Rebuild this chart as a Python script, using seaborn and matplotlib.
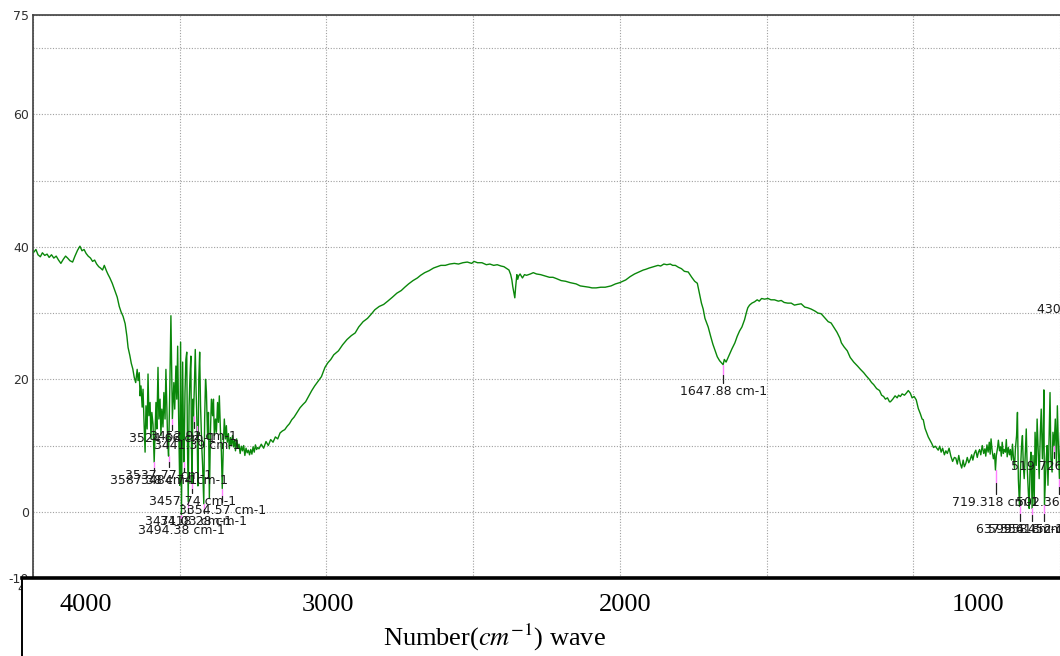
import numpy as np
import pandas as pd
import matplotlib
matplotlib.use("Agg")
import matplotlib.pyplot as plt
import seaborn as sns

# ---------------- data ----------------
wn_a = [3997, 3990, 3983, 3975, 3968, 3960, 3952, 3945, 3937, 3929, 3921, 3913, 3905, 3897,
        3889, 3882, 3874, 3865, 3857, 3848, 3840, 3833, 3826, 3819, 3812, 3804, 3797, 3790,
        3783, 3776, 3770, 3763, 3757, 3750, 3745, 3738, 3730, 3722, 3713, 3706, 3700, 3693,
        3686, 3680, 3676, 3670, 3665, 3660, 3655, 3650]
t_a = [39.2, 39.6, 38.8, 38.5, 39.1, 38.7, 38.9, 38.4, 38.8, 38.3, 38.6, 38.0, 37.5, 38.1,
       38.6, 38.3, 37.9, 37.7, 38.6, 39.5, 40.1, 39.4, 39.6, 39.0, 38.6, 38.3, 37.8, 38.0,
       37.4, 37.0, 36.8, 36.5, 37.2, 36.4, 35.9, 35.3, 34.5, 33.5, 32.4, 31.0, 30.2, 29.5,
       28.4, 26.5, 24.8, 23.6, 22.4, 21.6, 20.3, 19.5]

wn_b = [3645, 3642, 3638, 3635, 3632, 3628, 3625, 3622, 3618, 3615, 3611, 3608, 3605, 3601,
        3598, 3595, 3591, 3587, 3584, 3581, 3578, 3574, 3571, 3567, 3564, 3561, 3557, 3554,
        3550, 3547, 3544, 3541, 3538, 3534, 3530, 3527, 3525, 3520, 3517, 3513, 3510, 3507,
        3503, 3500, 3497, 3494, 3490, 3487, 3485, 3482, 3479, 3476, 3474, 3471, 3468, 3465,
        3462, 3460, 3458, 3455, 3453, 3450, 3447, 3444, 3441, 3438, 3435, 3432, 3429, 3425,
        3422, 3418, 3415, 3412, 3409, 3405, 3402, 3399, 3395, 3392, 3388, 3385, 3382, 3378,
        3375, 3371, 3368, 3365, 3361, 3358, 3355, 3351, 3348, 3344, 3341, 3338, 3334, 3331,
        3327, 3324, 3320, 3317, 3313, 3310, 3306, 3302, 3298, 3294, 3290, 3286, 3282, 3278,
        3274, 3270, 3266, 3262, 3258, 3254, 3250, 3246, 3242, 3238, 3234]
t_b = [21.5, 19.8, 21.0, 17.5, 19.0, 15.8, 18.5, 14.0, 9.0, 16.0, 12.5, 20.8, 14.5, 16.5,
       11.0, 15.0, 13.2, 7.5, 12.0, 16.5, 12.5, 21.8, 14.0, 17.0, 11.5, 15.5, 12.8, 18.0,
       14.0, 21.5, 16.0, 10.5, 8.4, 18.0, 29.6, 20.0, 14.0, 19.5, 15.5, 22.0, 17.0, 25.0,
       12.0, 4.0, 25.6, -0.5, 22.6, 10.0, 7.5, 18.0, 23.0, 24.1, 12.0, 1.5, 16.0, 20.5,
       23.5, 10.0, 4.3, 17.0, 14.5, 19.0, 24.5, 18.0, 13.0, 3.9, 20.0, 24.1, 16.0, 10.0,
       7.0, 1.2, 14.0, 20.0, 18.1, 11.0, 15.0, 2.0, 12.5, 17.0, 14.5, 17.0, 11.5, 14.0,
       12.0, 16.5, 13.5, 17.5, 12.0, 9.0, 3.5, 10.5, 14.0, 11.0, 13.0, 10.5, 11.8, 9.5,
       11.2, 10.0, 11.5, 9.8, 10.8, 9.2, 11.0, 9.6, 10.2, 8.8, 9.9, 9.2, 10.0, 8.5,
       9.6, 8.9, 9.3, 8.6, 9.4, 8.7, 9.8, 9.0, 10.1, 9.4, 9.7]

wn_c = [3230, 3222, 3214, 3206, 3198, 3190, 3182, 3174, 3166, 3158, 3150, 3142, 3134, 3126,
        3118, 3110, 3100, 3090, 3080, 3071, 3060, 3050, 3040, 3030, 3017, 3005, 2995, 2985,
        2975, 2959, 2945, 2930, 2915, 2902, 2890, 2875, 2860, 2848, 2835, 2820, 2805, 2791,
        2775, 2760, 2745, 2733, 2720, 2705, 2690, 2679, 2665, 2650, 2635, 2622, 2610, 2595,
        2580, 2564, 2550, 2535, 2520, 2505, 2497, 2485, 2470, 2455, 2443, 2430, 2418, 2405,
        2395, 2385, 2378, 2372, 2368, 2365, 2361, 2358, 2355, 2351, 2348, 2345, 2340, 2332,
        2325, 2318, 2305, 2295, 2284, 2270, 2255, 2240, 2228, 2216, 2200, 2185, 2170, 2160,
        2149, 2135, 2120, 2105, 2095, 2081, 2065, 2050, 2040, 2030, 2015, 2000]
t_c = [9.5, 10.2, 9.6, 10.6, 10.0, 10.9, 10.5, 11.3, 11.0, 11.9, 12.2, 12.4, 12.9, 13.3,
       13.9, 14.3, 15.0, 15.7, 16.2, 16.6, 17.5, 18.3, 19.0, 19.6, 20.4, 21.8, 22.5, 23.0,
       23.7, 24.3, 25.2, 26.0, 26.6, 27.0, 27.9, 28.7, 29.2, 29.8, 30.5, 31.0, 31.3, 31.8,
       32.4, 33.0, 33.4, 33.9, 34.4, 34.9, 35.3, 35.7, 36.1, 36.4, 36.8, 37.0, 37.2, 37.2,
       37.4, 37.5, 37.4, 37.6, 37.7, 37.5, 37.8, 37.6, 37.6, 37.3, 37.4, 37.2, 37.3, 37.1,
       37.0, 36.7, 36.5, 35.8, 35.0, 34.0, 33.0, 32.3, 34.0, 35.8, 35.1, 35.6, 35.9, 35.3,
       35.8, 35.7, 35.9, 36.1, 35.9, 35.8, 35.6, 35.4, 35.4, 35.2, 34.9, 34.8, 34.6, 34.5,
       34.4, 34.1, 34.0, 33.9, 33.8, 33.8, 33.9, 33.9, 34.0, 34.1, 34.4, 34.6]

wn_d = [1990, 1980, 1965, 1950, 1935, 1920, 1912, 1900, 1885, 1870, 1861, 1850, 1840, 1828,
        1820, 1811, 1800, 1790, 1780, 1767, 1755, 1745, 1736, 1730, 1722, 1716, 1710, 1699,
        1690, 1683, 1676, 1668, 1660, 1652, 1648, 1644, 1638, 1632, 1625, 1618, 1608, 1600,
        1592, 1584, 1575, 1568, 1564, 1558, 1550, 1541, 1532, 1525, 1517, 1507, 1495, 1485,
        1473, 1460, 1450, 1440, 1428, 1416, 1405, 1395, 1382, 1370, 1360, 1348, 1335, 1325,
        1314, 1300, 1290, 1280, 1270, 1260, 1250, 1245, 1236, 1225, 1215, 1203, 1190, 1180,
        1169, 1160, 1150, 1142, 1135, 1125, 1115, 1108, 1101, 1095, 1088, 1081, 1078, 1070,
        1062, 1055, 1050, 1044, 1038, 1030, 1024, 1017, 1010, 1004]
t_d = [34.8, 35.0, 35.5, 35.9, 36.2, 36.5, 36.6, 36.8, 37.0, 37.2, 37.1, 37.4, 37.3, 37.4,
       37.2, 37.2, 36.9, 36.7, 36.3, 36.2, 35.4, 34.8, 34.5, 33.2, 31.5, 30.6, 29.2, 27.9,
       26.4, 25.3, 24.4, 23.4, 22.8, 22.4, 22.2, 23.0, 22.6, 23.2, 23.9, 24.6, 25.5, 26.5,
       27.3, 27.9, 29.0, 30.2, 30.8, 31.2, 31.5, 31.7, 32.0, 31.8, 32.2, 32.1, 32.2, 32.0,
       32.0, 31.8, 31.9, 31.6, 31.5, 31.5, 31.2, 31.3, 31.4, 30.9, 30.8, 30.6, 30.3, 30.0,
       29.9, 29.2, 28.7, 28.5, 27.8, 27.1, 26.2, 25.5, 24.9, 24.3, 23.3, 22.6, 22.0, 21.5,
       21.0, 20.5, 20.0, 19.5, 19.2, 18.6, 18.3, 17.6, 17.4, 17.0, 17.2, 16.6, 16.6, 17.0,
       17.5, 17.2, 17.6, 17.4, 17.8, 17.6, 17.9, 18.3, 17.9, 17.2]

wn_e = [997, 990, 983, 976, 970, 966, 960, 955, 949, 943, 937, 931, 925, 920, 915, 910, 905,
        900, 894, 889, 884, 878, 872, 866, 860, 855, 850, 845, 840, 835, 830, 826, 821, 816,
        811, 806, 801, 797, 792, 787, 782, 778, 774, 770, 765, 760, 756, 753, 749, 745, 741,
        738, 735, 731, 727, 723, 720, 717, 713, 710, 706, 703, 700, 697, 693, 690, 686, 683,
        680, 676, 672, 669, 665, 662, 659, 655, 652, 648, 645, 642, 638, 635, 631, 628, 625,
        622, 618, 615, 612, 608, 605, 602, 599, 595, 592, 588, 585, 581, 578, 574, 571, 567,
        564, 560, 557, 555, 553, 547, 544, 541, 537, 534, 531, 527, 524, 520, 516, 512, 509,
        505, 502, 498]
t_e = [17.4, 16.9, 15.6, 14.8, 14.0, 13.9, 12.6, 12.0, 11.3, 10.8, 10.3, 9.7, 9.9, 9.6, 9.3,
       9.9, 9.0, 9.6, 8.6, 9.2, 8.8, 9.6, 8.4, 7.6, 8.2, 8.1, 7.2, 8.5, 7.3, 6.6, 7.8, 6.8,
       7.3, 8.2, 7.4, 7.9, 8.6, 7.8, 8.8, 9.3, 8.2, 9.0, 9.4, 8.6, 10.0, 8.8, 9.5, 8.4, 10.1,
       9.0, 10.5, 8.7, 11.0, 9.1, 8.0, 8.8, 6.3, 8.5, 9.6, 10.8, 9.2, 9.8, 8.4, 10.5, 8.8,
       9.4, 9.0, 10.9, 8.3, 9.7, 8.6, 9.4, 7.8, 10.2, 8.4, 6.5, 9.5, 11.5, 15.0, 5.0, 0.8,
       6.0, 10.0, 11.5, 7.0, 5.0, 9.0, 12.5, 7.0, 3.0, 0.5, 7.0, 9.0, 0.5, 8.5, 1.0, 12.0,
       7.0, 14.0, 9.0, 5.0, 12.0, 15.5, 8.0, 12.0, 18.4, 1.0, 8.0, 10.0, 4.0, 11.5, 18.0,
       8.0, 6.0, 12.0, 10.0, 14.0, 7.0, 16.0, 9.0, 5.0, 12.0]

wavenumber = wn_a + wn_b + wn_c + wn_d + wn_e
transmittance = t_a + t_b + t_c + t_d + t_e

peak_wn = [3587.38, 3537.77, 3524.66, 3494.38, 3484.74, 3471.03, 3457.74, 3452.92, 3441.39,
           3418.28, 3354.57, 1647.88, 719.318, 637.958, 595.618, 554.452, 519.726, 502.369,
           430.215]
peak_labels = ["3587.38 cm-1", "3537.77 cm-1", "3524.66 cm-1", "3494.38 cm-1", "3484.74 cm-1",
               "3471.03 cm-1", "3457.74 cm-1", "3452.92 cm-1", "3441.39 cm-1", "3418.28 cm-1",
               "3354.57 cm-1", "1647.88 cm-1", "719.318 cm-1", "637.958 cm-1", "595.618 cm-1",
               "554.452 cm-1", "519.726 cm-1", "502.369 cm-1", "430.215 cm-1"]
peak_tip = [7.5, 8.4, 14.0, -0.5, 7.5, 1.5, 4.3, 14.5, 13.0, 1.2, 3.5, 22.2, 6.3, 0.8, 0.5,
            1.0, 10.0, 5.0, 34.0]
peak_text_y = [4.7, 5.5, 11.1, -2.9, 4.7, -1.5, 1.5, 11.4, 10.0, -1.5, 0.15, 18.2, 1.4,
               -2.7, -2.7, -2.7, 6.8, 1.4, 30.5]

x_ticks = [4000, 3500, 3000, 2500, 2000, 1500, 1000, 500]
y_ticks = [-10, 0, 10, 20, 30, 40, 50, 60, 70, 75]
y_tick_labels = ["-10", "0", "", "20", "", "40", "", "60", "", "75"]
bottom_labels = ["4000", "3000", "2000", "1000"]
bottom_label_px = [86, 328, 625, 978]

# ---------------- figure ----------------
sns.set_style("white")
plt.rcParams["font.family"] = ["DejaVu Sans"]
plt.rcParams["mathtext.fontset"] = "stix"

W, H = 1060, 656
fig = plt.figure(figsize=(W / 100, H / 100), dpi=100)
fig.patch.set_facecolor("white")

ax = fig.add_axes([33 / W, 78 / H, (W - 33) / W, (578 - 15) / H])
df = pd.DataFrame({"wn": wavenumber, "T": transmittance})
sns.lineplot(data=df, x="wn", y="T", ax=ax, color="#0a870a", linewidth=1.0,
             estimator=None, sort=False, zorder=3)

ax.set_xlim(4000, 527)
ax.set_ylim(-10, 75)
ax.set_xticks(x_ticks)
ax.set_xticklabels([str(v) for v in x_ticks])
ax.set_yticks(y_ticks)
ax.set_yticklabels(y_tick_labels)
ax.set_xlabel("")
ax.set_ylabel("")
ax.grid(True, which="major", linestyle=(0, (1, 1.5)), color="#a0a0a0", linewidth=0.8)
ax.tick_params(direction="in", length=8, width=1, color="#505050",
               labelsize=9, labelcolor="#303030", pad=3)
ax.spines["right"].set_visible(False)
for side in ["left", "top", "bottom"]:
    ax.spines[side].set_color("#404040")
    ax.spines[side].set_linewidth(1.2)

# peak picks
for w, lab, tip, ty in zip(peak_wn, peak_labels, peak_tip, peak_text_y):
    end = ty + 1.3
    mid = tip - (tip - end) * 0.55
    ax.plot([w, w], [tip, mid], color="#ff7fff", linewidth=1.0, zorder=4)
    ax.plot([w, w], [mid, end], color="#202020", linewidth=0.9, zorder=4)
    ax.text(w, ty, lab, ha="center", va="center", fontsize=9, color="#1a1a1a", zorder=5)

# pasted lower axis box
ax2 = fig.add_axes([22 / W, 0, 1 - 22 / W, 78 / H])
ax2.set_facecolor("white")
ax2.set_xticks([])
ax2.set_yticks([])
ax2.spines["right"].set_visible(False)
ax2.spines["bottom"].set_visible(False)
ax2.spines["top"].set_linewidth(2.6)
ax2.spines["top"].set_color("black")
ax2.spines["left"].set_linewidth(1.4)
ax2.spines["left"].set_color("black")

for lab, px in zip(bottom_labels, bottom_label_px):
    fig.text(px / W, 1 - 605 / H, lab, ha="center", va="center",
             family="Liberation Serif", fontsize=19, color="black")
fig.text(494 / W, 1 - 637 / H, r"Number($cm^{-1}$) wave", ha="center", va="center",
         family="Liberation Serif", fontsize=19, color="black")

fig.savefig("out.png", dpi=100)
